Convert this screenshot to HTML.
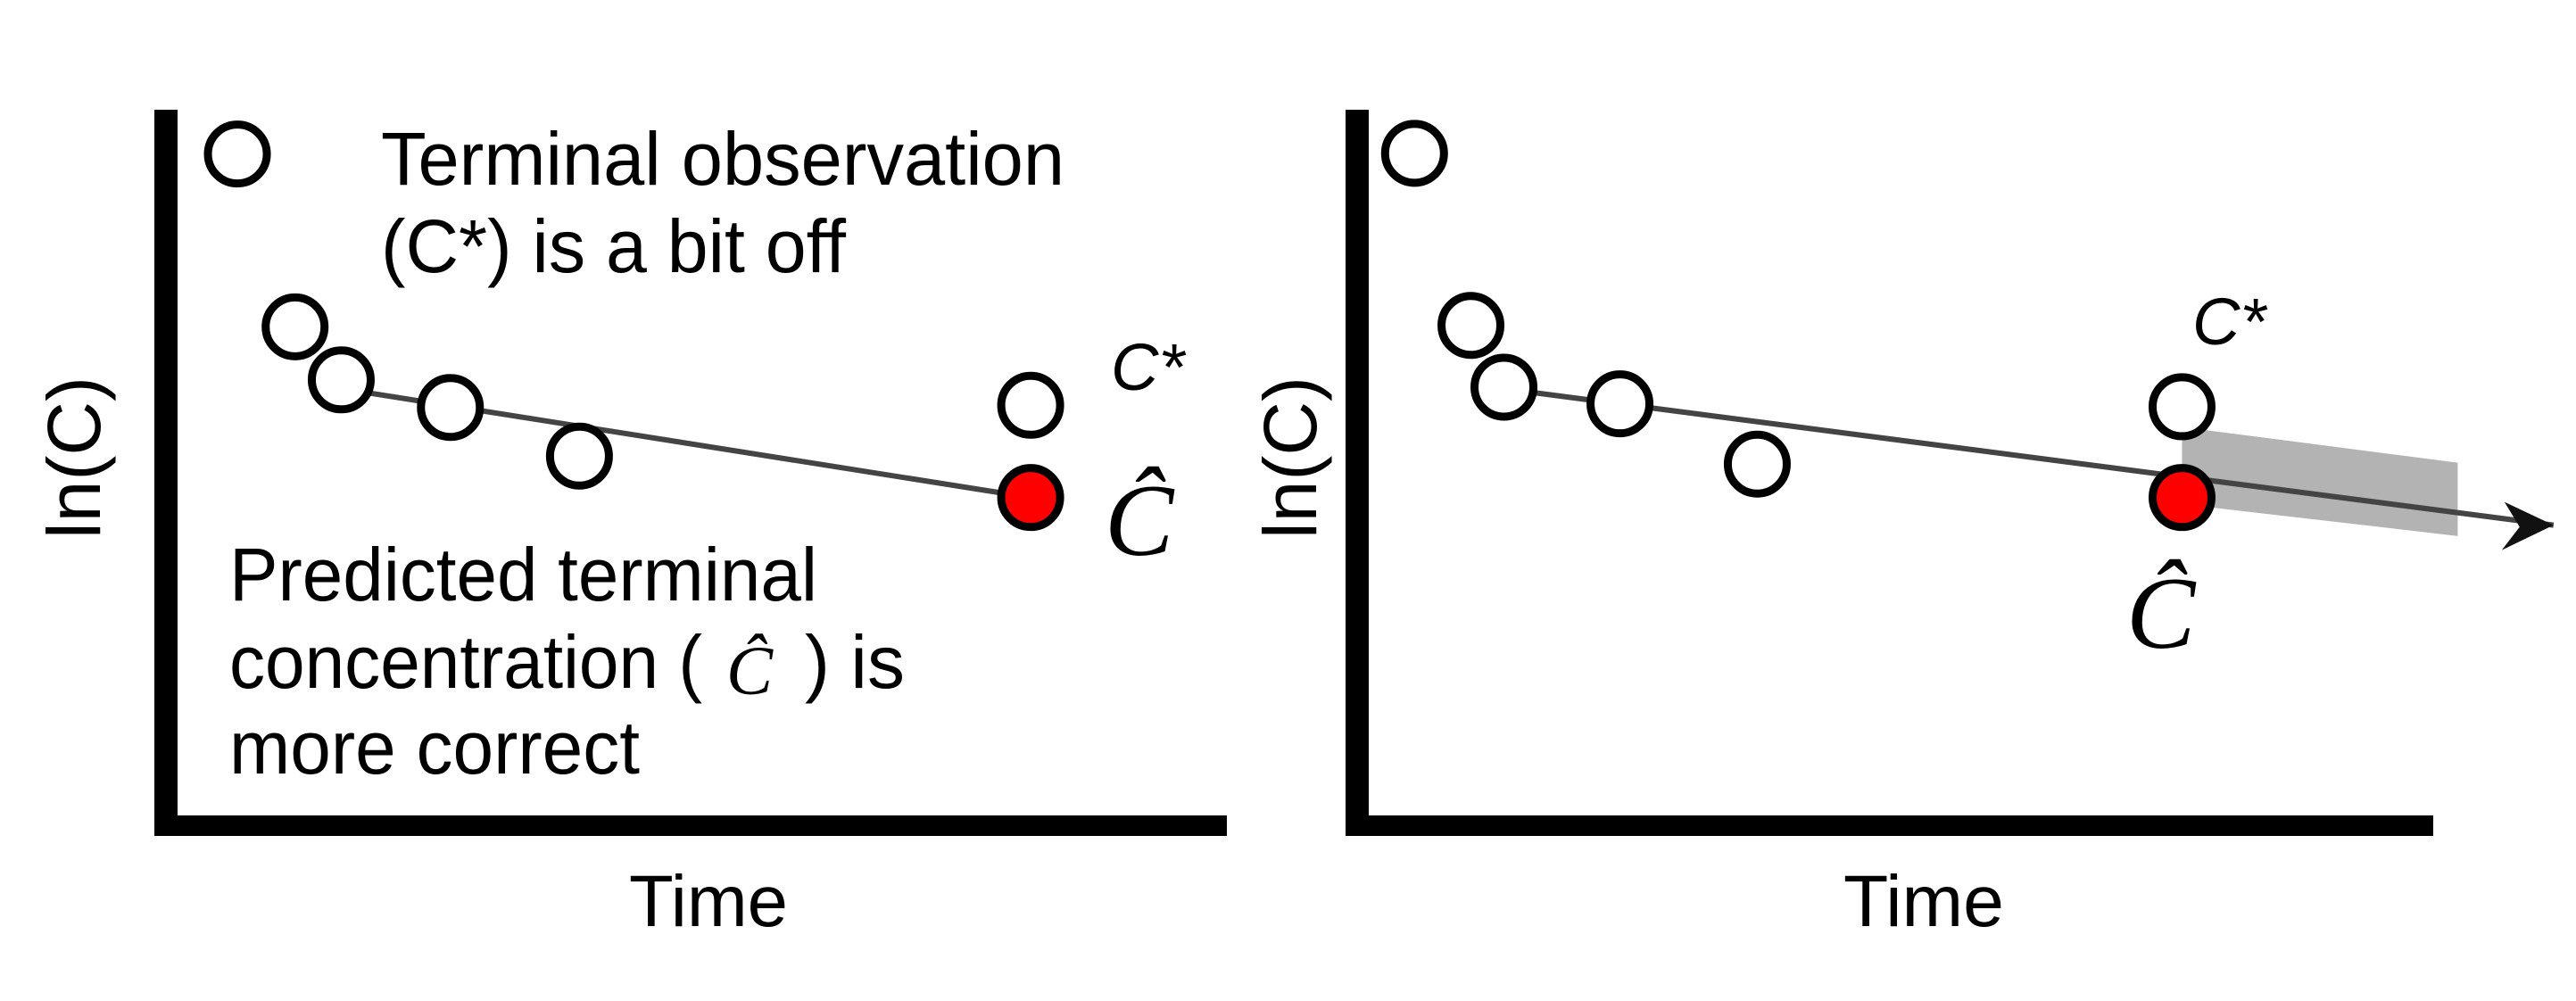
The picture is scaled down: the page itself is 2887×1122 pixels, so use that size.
<!DOCTYPE html>
<html><head><meta charset="utf-8"><style>
html,body{margin:0;padding:0;background:#fff;}
svg{display:block;}
text{font-family:"Liberation Sans",Arial,sans-serif;fill:#000;}
.serif{font-family:"Liberation Serif","Times New Roman",serif;font-style:italic;}
</style></head><body>
<svg id="fig" width="2887" height="1122" viewBox="0 0 2887 1122">
<g id="left"></g>
<g id="right"></g>
</svg>
<script>
// ---- data (time units 0..10, ln(C) units 0..10) ----
const leftTimes = [0.57, 1.12, 1.56, 2.60, 3.83];
const leftLnC = [9.39, 7.01, 6.28, 5.90, 5.23];
const leftTerminal = [8.13, 5.93];
const leftPredicted = [8.13, 4.66];
const leftLineStart = [1.56, 6.16];

const rightTimes = [0.43, 0.96, 1.27, 2.36, 3.65];
const rightLnC = [9.40, 7.03, 6.18, 5.95, 5.12];
const rightTerminal = [7.64, 5.91];
const rightPredicted = [7.64, 4.66];
const rightLineStart = [1.52, 6.11];
const rightArrowEnd = [11.13, 4.28];
const bandTimes = [7.64, 10.23];
const bandUpper = [5.63, 5.14];
const bandLower = [4.57, 4.13];

const NS = "http://www.w3.org/2000/svg";
function mk(parent, tag, attrs, txt){
  const e = document.createElementNS(NS, tag);
  for (const k in attrs) e.setAttribute(k, attrs[k]);
  if (txt !== undefined) e.textContent = txt;
  parent.appendChild(e);
  return e;
}
function makeAxes(x0, x1){
  const yTop = 937, yBot = 123;
  return {
    x: t => x0 + t * (x1 - x0) / 10,
    y: v => yTop - v * (yTop - yBot) / 10
  };
}
function drawPanel(g, ax, x0, x1, times, lnc, term, pred, lineStart, lineEnd){
  let e;
  e = mk(g, 'rect', {x: x0 - 26, y: 123, width: 26, height: 814, fill: '#000'});
  
  
  e = mk(g, 'rect', {x: x0 - 26, y: 914, width: x1 - x0 + 26, height: 23, fill: '#000'});
  
  
  e = mk(g, 'line', {x1: ax.x(lineStart[0]), y1: ax.y(lineStart[1]), x2: ax.x(lineEnd[0]), y2: ax.y(lineEnd[1]), stroke: '#444', 'stroke-width': 6});
  
  
  for (let i = 0; i < times.length; i++){
    e = mk(g, 'circle', {cx: ax.x(times[i]), cy: ax.y(lnc[i]), r: 33, fill: '#fff', stroke: '#000', 'stroke-width': 9});
    
    
  }
  e = mk(g, 'circle', {cx: ax.x(term[0]), cy: ax.y(term[1]), r: 33, fill: '#fff', stroke: '#000', 'stroke-width': 9});
  
  
  e = mk(g, 'circle', {cx: ax.x(pred[0]), cy: ax.y(pred[1]), r: 33, fill: '#f00', stroke: '#000', 'stroke-width': 9});
  
  
}

const L = document.getElementById('left');
const axL = makeAxes(199, 1375);
drawPanel(L, axL, 199, 1375, leftTimes, leftLnC, leftTerminal, leftPredicted, leftLineStart, leftPredicted);

const R = document.getElementById('right');
const axR = makeAxes(1534, 2727);
let bpts = [
  [axR.x(bandTimes[0]), axR.y(bandUpper[0])],
  [axR.x(bandTimes[1]), axR.y(bandUpper[1])],
  [axR.x(bandTimes[1]), axR.y(bandLower[1])],
  [axR.x(bandTimes[0]), axR.y(bandLower[0])]
].map(p => p.join(',')).join(' ');
let band = mk(R, 'polygon', {points: bpts, fill: '#b3b3b3'});


drawPanel(R, axR, 1534, 2727, rightTimes, rightLnC, rightTerminal, rightPredicted, rightLineStart, rightArrowEnd);
const ax2 = axR.x(rightArrowEnd[0]), ay2 = axR.y(rightArrowEnd[1]);
let head = mk(R, 'polygon', {points: `${ax2},${ay2} ${ax2-55},${ay2-26} ${ax2-38},${ay2+2} ${ax2-58},${ay2+28}`, fill: '#111'});


</script>
<svg width="2887" height="1122" viewBox="0 0 2887 1122" style="position:absolute;left:0;top:0">
  <text x="427" y="207" font-size="84" textLength="766" lengthAdjust="spacingAndGlyphs">Terminal observation</text>
  <text x="427" y="305" font-size="84" textLength="521" lengthAdjust="spacingAndGlyphs">(C*) is a bit off</text>
  <text x="257" y="673" font-size="84" textLength="659" lengthAdjust="spacingAndGlyphs">Predicted terminal</text>
  <text x="257" y="771" font-size="84" textLength="530" lengthAdjust="spacingAndGlyphs">concentration (</text>
  <text x="814" y="778" font-size="78" class="serif">Ĉ</text>
  <text x="902" y="771" font-size="84">) is</text>
  <text x="257" y="867" font-size="84" textLength="460" lengthAdjust="spacingAndGlyphs">more correct</text>
  <text x="1245" y="437" font-size="74" font-style="italic">C*</text>
  <text x="1238" y="622" font-size="116" class="serif">Ĉ</text>
  <text x="2457" y="386" font-size="74" font-style="italic">C*</text>
  <text x="2383" y="726" font-size="116" class="serif">Ĉ</text>
  <text x="705" y="1038" font-size="82" textLength="178" lengthAdjust="spacingAndGlyphs">Time</text>
  <text x="2066" y="1038" font-size="82" textLength="180" lengthAdjust="spacingAndGlyphs">Time</text>
  <text x="0" y="0" font-size="84" text-anchor="middle" transform="translate(112,513) rotate(-90)">ln(C)</text>
  <text x="0" y="0" font-size="84" text-anchor="middle" transform="translate(1475,513) rotate(-90)">ln(C)</text>
</svg>
</body></html>
